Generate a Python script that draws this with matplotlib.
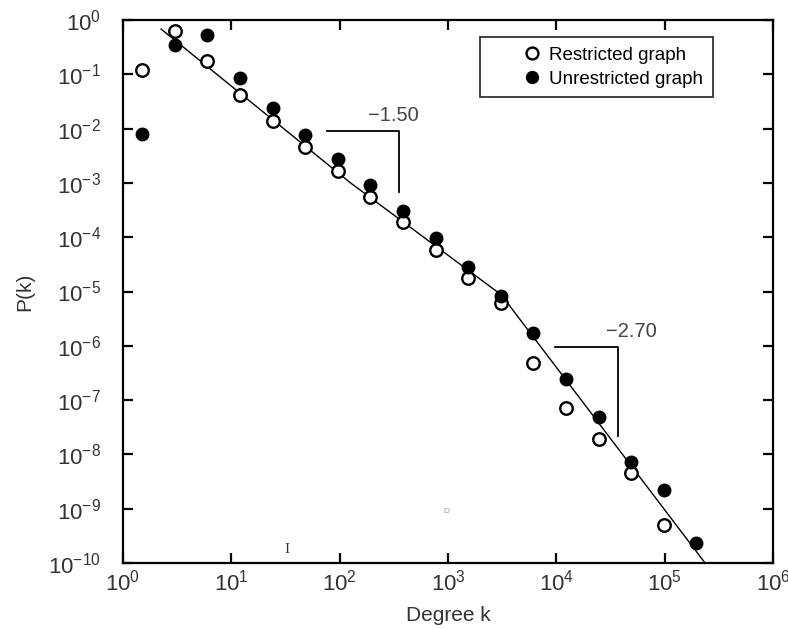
import matplotlib
matplotlib.use('Agg')
import matplotlib.pyplot as plt
from matplotlib.ticker import LogLocator, NullLocator

plt.rcParams['font.family'] = ['Liberation Sans', 'DejaVu Sans']
plt.rcParams['mathtext.default'] = 'regular'

# degree bins (doubling)
k = [1.5, 3, 6, 12, 24, 48, 96, 192, 384, 768, 1536, 3072,
     6144, 12288, 24576, 49152, 98304, 196608]

restricted_p = [0.122, 0.62, 0.173, 0.0417, 0.0136, 0.0046, 0.00163, 5.6e-4,
                1.9e-4, 5.7e-5, 1.8e-5, 6.1e-6, 4.8e-7, 7.1e-8, 1.9e-8,
                4.5e-9, 5.1e-10]
unrestricted_p = [0.008, 0.34, 0.54, 0.086, 0.024, 0.0077, 0.0027, 9.3e-4,
                  3.0e-4, 9.7e-5, 2.8e-5, 8.1e-6, 1.7e-6, 2.4e-7, 4.9e-8,
                  7.4e-9, 2.24e-9, 2.3e-10]

# fitted curve (knots)
fit_k = [2.25, 126, 3100, 236000]
fit_p = [0.68, 1e-3, 8.7e-6, 1e-10]

# slope guides
slope1_k = [76.9, 354, 354]
slope1_p = [0.0092, 0.0092, 6.9e-4]
slope2_k = [9640, 37240, 37240]
slope2_p = [9.4e-7, 9.4e-7, 2.2e-8]

fig = plt.figure(figsize=(7.88, 6.29), dpi=100)
ax = fig.add_axes([123 / 788, 1 - 563 / 629, 650 / 788, 543 / 629])

ax.plot(fit_k, fit_p, color='black', lw=1.0, zorder=2)
ax.plot(k[:len(restricted_p)], restricted_p, 'o', ms=9, mfc='white',
        mec='black', mew=1.7, label='Restricted graph', zorder=3)
ax.plot(k, unrestricted_p, 'o', ms=9, mfc='black', mec='black',
        label='Unrestricted graph', zorder=4)

ax.plot(slope1_k, slope1_p, color='black', lw=1.3)
ax.plot(slope2_k, slope2_p, color='black', lw=1.3)
ax.text(181, 0.0178, '\u22121.50', fontsize=14.5, color='#444444',
        ha='left', va='center')
ax.text(29000, 1.8e-6, '\u22122.70', fontsize=14.5, color='#444444',
        ha='left', va='center')

# small stray marks in the scan
ax.text(32.8, 1.74e-10, 'I', fontsize=11, family='Liberation Serif',
        color='#333333', ha='center', va='center')
ax.text(958, 8.7e-10, 'D', fontsize=6, color='#999999',
        ha='center', va='center')

ax.set_xscale('log')
ax.set_yscale('log')
ax.set_xlim(1, 1e6)
ax.set_ylim(1e-10, 1)
ax.xaxis.set_major_locator(LogLocator(base=10, numticks=10))
ax.yaxis.set_major_locator(LogLocator(base=10, numticks=15))
ax.xaxis.set_minor_locator(NullLocator())
ax.yaxis.set_minor_locator(NullLocator())

ax.tick_params(which='major', direction='in', length=7, width=1.6,
               top=True, right=True, labelsize=16, labelcolor='#333333')
ax.tick_params(axis='x', pad=5)
ax.tick_params(axis='y', pad=16)
for sp in ax.spines.values():
    sp.set_linewidth(1.6)

ax.set_xlabel('Degree k', fontsize=15, color='#333333', labelpad=7)
ax.set_ylabel('P(k)', fontsize=15, color='#333333', labelpad=10)

leg = ax.legend(loc='upper right', bbox_to_anchor=(0.9077, 0.9687),
                fontsize=13.5, frameon=True, fancybox=False,
                handlelength=4.5, handletextpad=-1.34, borderpad=0.52,
                borderaxespad=0.0, labelspacing=0.35, markerscale=0.95)
leg.get_frame().set_edgecolor('black')
leg.get_frame().set_linewidth(1.3)

fig.savefig('out.png', dpi=100)
